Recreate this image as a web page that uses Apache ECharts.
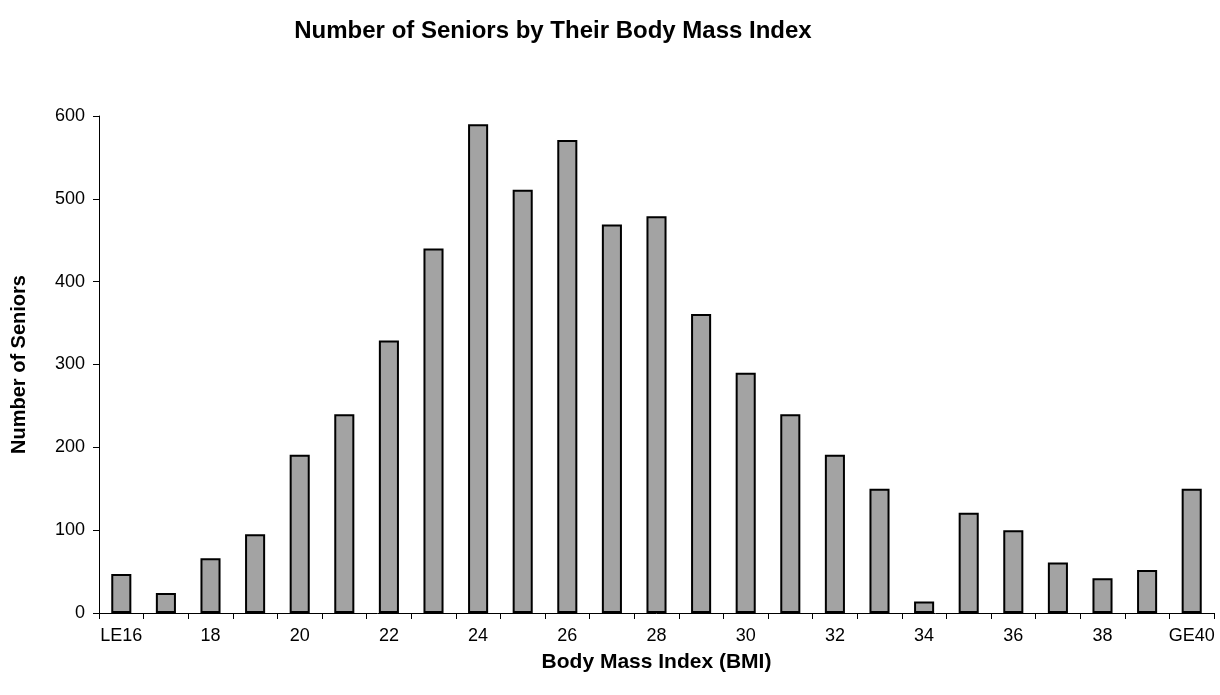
<!DOCTYPE html>
<html>
<head>
<meta charset="utf-8">
<script src="https://cdn.jsdelivr.net/npm/echarts@6/dist/echarts.min.js"></script>
<style>
html,body{margin:0;padding:0;background:#fff;}
#chart{width:1220px;height:695px;}
</style>
</head>
<body>
<div id="chart"></div>
<script>
const categories = ['LE16','17','18','19','20','21','22','23','24','25','26','27','28','29','30','31','32','33','34','35','36','37','38','39','GE40'];
const seniors = [47,24,66,95,191,240,329,440,590,511,571,469,479,361,290,240,191,150,14,121,100,61,42,52,150];
const yTicks = {min:0, max:600, interval:100};
const titleText = 'Number of Seniors by Their Body Mass Index';
const xName = 'Body Mass Index (BMI)';
const yName = 'Number of Seniors';

const chart = echarts.init(document.getElementById('chart'), null, {renderer:'canvas'});
chart.setOption({
  animation:false,
  backgroundColor:'#fff',
  textStyle:{fontFamily:'"Liberation Sans", Arial, sans-serif'},
  title:{
    text:titleText,
    left:548, top:14, textAlign:'center',
    textStyle:{fontSize:24, fontWeight:'bold', color:'#000', fontFamily:'"Liberation Sans", Arial, sans-serif'}
  },
  grid:{left:99, right:6, top:116, bottom:82, containLabel:false},
  xAxis:{
    type:'category',
    data:categories,
    name:xName,
    nameLocation:'middle',
    nameGap:39,
    nameTextStyle:{fontSize:21, fontWeight:'bold', color:'#000'},
    axisLine:{lineStyle:{color:'#000', width:1}},
    axisTick:{show:true, alignWithLabel:false, interval:0, length:6, lineStyle:{color:'#000'}},
    axisLabel:{interval:1, color:'#000', fontSize:18, margin:14},
    splitLine:{show:false}
  },
  yAxis:{
    type:'value',
    min:yTicks.min, max:yTicks.max, interval:yTicks.interval,
    name:yName,
    nameLocation:'middle',
    nameGap:70,
    nameTextStyle:{fontSize:20, fontWeight:'bold', color:'#000'},
    axisLine:{show:true, lineStyle:{color:'#000', width:1}},
    axisTick:{show:true, length:6, lineStyle:{color:'#000'}},
    axisLabel:{color:'#000', fontSize:18, margin:14},
    splitLine:{show:false}
  },
  series:[{
    type:'bar',
    data:seniors,
    barWidth:'45%',
    itemStyle:{color:'#a3a3a3', borderColor:'#000', borderWidth:2}
  }]
});
</script>
</body>
</html>
